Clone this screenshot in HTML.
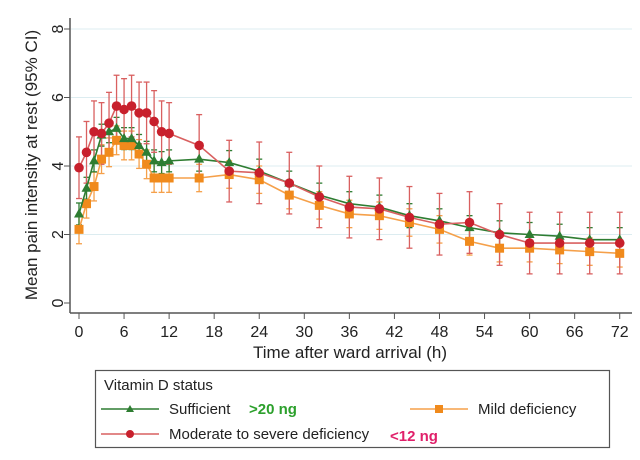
<!DOCTYPE html>
<html><head><meta charset="utf-8"><style>
body{margin:0;background:#fff;width:640px;height:455px;overflow:hidden;font-family:"Liberation Sans",sans-serif}
</style></head><body>
<svg id="s" width="640" height="455" xmlns="http://www.w3.org/2000/svg" font-family="Liberation Sans, sans-serif">
<rect width="640" height="455" fill="#fff"/>
<g stroke="#dcecf0" stroke-width="1">
<line x1="71" x2="632" y1="234.5" y2="234.5"/><line x1="71" x2="632" y1="166" y2="166"/><line x1="71" x2="632" y1="97.5" y2="97.5"/><line x1="71" x2="632" y1="29" y2="29"/>
</g>
<line x1="70" y1="18" x2="70" y2="313" stroke="#555" stroke-width="1.5"/>
<line x1="70" y1="313" x2="632" y2="313" stroke="#555" stroke-width="1.5"/>
<g id="yt" font-size="16" fill="#222"></g>
<g id="xt" font-size="16" fill="#222"></g>
<text transform="translate(37,165) rotate(-90)" text-anchor="middle" font-size="17" fill="#222">Mean pain intensity at rest (95% CI)</text>
<text x="350" y="358" text-anchor="middle" font-size="17" fill="#222">Time after ward arrival (h)</text>
<g id="data"></g>
<rect x="95.5" y="370.5" width="514" height="77" fill="#fff" stroke="#555" stroke-width="1.2"/>
<text x="104" y="390" font-size="15" fill="#222">Vitamin D status</text>
<line x1="101" x2="159" y1="409" y2="409" stroke="#2e7d32" stroke-width="1.5"/><path d="M130 405 L134 412 L126 412Z" fill="#2e7d32"/>
<text x="169" y="414" font-size="15" fill="#222">Sufficient</text>
<text x="249" y="414" font-size="15" font-weight="bold" fill="#2ca02c">&gt;20 ng</text>
<line x1="410" x2="468" y1="409" y2="409" stroke="#f5a04a" stroke-width="1.5"/><rect x="435" y="405" width="8" height="8" fill="#f08a1c"/>
<text x="478" y="414" font-size="15" fill="#222">Mild deficiency</text>
<line x1="101" x2="159" y1="434" y2="434" stroke="#d96060" stroke-width="1.5"/><circle cx="130" cy="434" r="4" fill="#c8202c"/>
<text x="169" y="439" font-size="15" fill="#222">Moderate to severe deficiency</text>
<text x="390" y="441" font-size="15" font-weight="bold" fill="#e0206a">&lt;12 ng</text>
</svg>
<script>
var ns="http://www.w3.org/2000/svg";
function X(t){return 79+t*7.51}function Y(v){return 303-v*34.25}
function el(p,n,a,txt){var e=document.createElementNS(ns,n);for(var k in a)e.setAttribute(k,a[k]);if(txt!=null)e.textContent=txt;document.getElementById(p).appendChild(e);return e}
for(var v=0;v<=8;v+=2){el("yt","line",{x1:64,x2:70,y1:Y(v),y2:Y(v),stroke:"#555"});el("yt","text",{transform:"translate(63,"+Y(v)+") rotate(-90)","text-anchor":"middle"},v)}
for(var t=0;t<=72;t+=6){el("xt","line",{x1:X(t),x2:X(t),y1:313,y2:319,stroke:"#555"});el("xt","text",{x:X(t),y:337,"text-anchor":"middle"},t)}
var T=[0,1,2,3,4,5,6,7,8,9,10,11,12,16,20,24,28,32,36,40,44,48,52,56,60,64,68,72];
var S=[
{c:"#f5a04a",m:"#f08a1c",k:"s",e:[0.42,0.4],d:[2.15,2.9,3.4,4.2,4.4,4.75,4.6,4.6,4.35,4.05,3.65,3.65,3.65,3.65,3.75,3.6,3.15,2.85,2.6,2.55,2.35,2.15,1.8,1.6,1.6,1.55,1.5,1.45]},
{c:"#2e7d32",m:"#2e7d32",k:"t",e:[0.32,0.35],d:[2.6,3.35,4.15,4.9,5.0,5.1,4.8,4.8,4.6,4.4,4.15,4.1,4.15,4.2,4.1,3.85,3.5,3.15,2.9,2.8,2.55,2.4,2.2,2.05,2.0,1.95,1.85,1.85]},
{c:"#d96060",m:"#c8202c",k:"c",e:[0.9,0.9],d:[3.95,4.4,5.0,4.95,5.25,5.75,5.65,5.75,5.55,5.55,5.3,5.0,4.95,4.6,3.85,3.8,3.5,3.1,2.8,2.75,2.5,2.3,2.35,2.0,1.75,1.75,1.75,1.75]}];
S.forEach(function(s){
 T.forEach(function(t,i){var e=t<16?s.e[0]:s.e[1];var x=X(t),a=Y(s.d[i]+e),b=Y(s.d[i]-e);
  el("data","line",{x1:x,x2:x,y1:a,y2:b,stroke:s.c,"stroke-width":1.3});
  el("data","line",{x1:x-3,x2:x+3,y1:a,y2:a,stroke:s.c,"stroke-width":1.3});
  el("data","line",{x1:x-3,x2:x+3,y1:b,y2:b,stroke:s.c,"stroke-width":1.3});});
});
S.forEach(function(s){
 el("data","polyline",{points:T.map(function(t,i){return X(t)+","+Y(s.d[i])}).join(" "),fill:"none",stroke:s.c,"stroke-width":1.6});
 T.forEach(function(t,i){var x=X(t),y=Y(s.d[i]);
  if(s.k=="s")el("data","rect",{x:x-4.5,y:y-4.5,width:9,height:9,fill:s.m});
  else if(s.k=="t")el("data","path",{d:"M"+x+" "+(y-5.5)+"L"+(x+5)+" "+(y+3.5)+"L"+(x-5)+" "+(y+3.5)+"Z",fill:s.m});
  else el("data","circle",{cx:x,cy:y,r:4.8,fill:s.m});});
});
</script>
</body></html>
